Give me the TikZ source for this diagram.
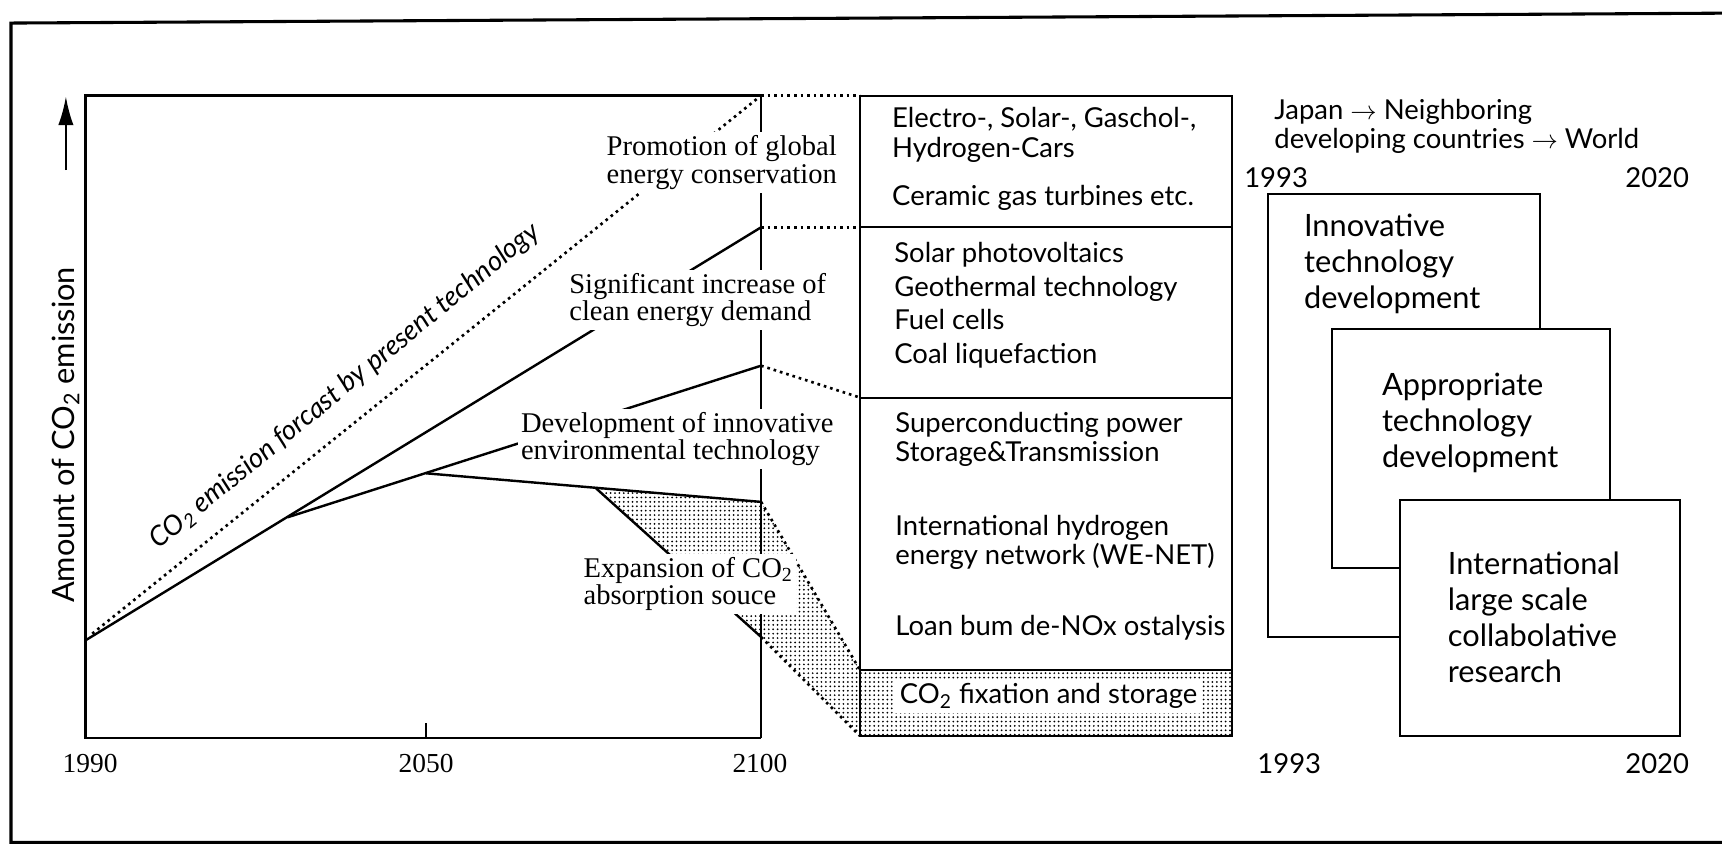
\documentclass[tikz,border=0pt]{standalone}
\usepackage{fontspec}
\setmainfont{Liberation Serif}
\newfontfamily\optfont{Lato}
\usepackage{tikz}
\usetikzlibrary{arrows.meta, patterns.meta, positioning}

\begin{document}
\begin{tikzpicture}[x=0.5pt, y=-0.5pt,
  graphline/.style={line width=1.1pt},
  dotline/.style={line width=1.2pt, dash pattern=on 1.2pt off 1.8pt},
  chartlbl/.style={font=\fontsize{13}{12.5}\selectfont, align=left, fill=white, inner sep=1.5pt, anchor=west},
  midtxt/.style={font=\fontsize{12.5}{13.5}\selectfont\optfont, align=left, anchor=west, inner sep=0pt},
  bigtxt/.style={font=\fontsize{14}{16.3}\selectfont\optfont, align=left, anchor=west, inner sep=0pt},
  yeartxt/.style={font=\fontsize{12.5}{14}\selectfont, inner sep=0pt},
  stepbox/.style={draw, line width=0.9pt, fill=white},
  stipple/.style={pattern={Dots[distance=2pt, radius=0.45pt]}}]
  \useasboundingbox (0,0) rectangle (1568,769);

  % Outer frame
  \draw[line width=1.4pt] (1568,12) -- (10,21) -- (10,767) -- (1568,767);

  % Key points of the emission chart
  \coordinate (o)   at (78,583);
  \coordinate (br)  at (262,471);
  \coordinate (p50) at (388,431);
  \coordinate (s1)  at (542,444);
  \coordinate (t1)  at (693,87);
  \coordinate (t2)  at (693,207);
  \coordinate (t3)  at (693,333);
  \coordinate (t4)  at (693,457);
  \coordinate (t5)  at (693,580);
  \coordinate (m1)  at (783,87);
  \coordinate (m2)  at (783,207);
  \coordinate (m3)  at (783,362);
  \coordinate (m4)  at (783,610);
  \coordinate (m5)  at (783,670);

  % Stippled CO2 absorption band
  \fill[stipple] (s1) -- (t4) -- (m4) -- (m5) -- (t5) -- cycle;
  \fill[stipple] (m4) rectangle (1122,670);

  % Chart frame
  \draw[graphline] (t1) -- (78,87) -- (78,672) -- (693,672);
  \draw[graphline] (388,672) -- (388,658);
  \draw[graphline] (t1) -- (693,672);

  % Emission paths
  \draw[dotline] (84,577) -- (t1);
  \draw[graphline] (o) -- (t2);
  \draw[graphline] (br) -- (t3);
  \draw[graphline] (p50) -- (t4);
  \draw[graphline] (s1) -- (t5);
  \draw[dotline] (t4) -- (m4);
  \draw[dotline] (t5) -- (m5);

  % Dotted links to the technology column
  \draw[dotline] (t1) -- (m1);
  \draw[dotline] (t2) -- (m2);
  \draw[dotline] (t3) -- (m3);

  % Technology column
  \draw[line width=0.9pt] (m1) rectangle (1122,670);
  \draw[line width=0.9pt] (m2) -- (1122,207);
  \draw[line width=0.9pt] (m3) -- (1122,362);
  \draw[line width=0.9pt] (m4) -- (1122,610);

  % Chart labels
  \node[chartlbl] (promo) at (549,148) {Promotion of global\\energy conservation};
  \node[chartlbl] (clean) at (515,273) {Significant increase of\\clean energy demand};
  \node[chartlbl] (innov) at (471,400) {Development of innovative\\environmental technology};
  \node[chartlbl] (absorb) at (528,532) {Expansion of CO\textsubscript{2}\\absorption souce};

  % Axis labels
  \draw[-{Latex[length=13pt,width=7pt]}, line width=0.9pt] (60,155) -- (60,88);
  \node[rotate=90, font=\fontsize{14}{14}\selectfont\optfont] (ylbl) at (60,396) {Amount of CO\textsubscript{2} emission};
  \node[rotate=39.4, font=\fontsize{12.5}{12}\selectfont\optfont\itshape] (fcast) at (314,352) {CO\textsubscript{2} emission forcast by present technology};
  \node[yeartxt] (y1990) at (82,695) {1990};
  \node[yeartxt] (y2050) at (388,695) {2050};
  \node[yeartxt] (y2100) at (692,695) {2100};

  % Technology items
  \node[midtxt] (cars) at (812,123) {Electro-, Solar-, Gaschol-,\\Hydrogen-Cars};
  \node[midtxt] (turb) at (812,180) {Ceramic gas turbines etc.};
  \node[midtxt, font=\fontsize{12.5}{15.3}\selectfont\optfont] (solar) at (814,278) {Solar photovoltaics\\Geothermal technology\\Fuel cells\\Coal liquefaction};
  \node[midtxt] (super) at (815,400) {Superconducting power\\Storage\&Transmission};
  \node[midtxt] (wenet) at (815,494) {International hydrogen\\energy network (WE-NET)};
  \node[midtxt] (denox) at (815,572) {Loan bum de-NOx ostalysis};
  \node[midtxt, fill=white, inner sep=2pt] (fix) at (815,634) {CO\textsubscript{2} fixation and storage};

  % Strategy boxes
  \node[midtxt] (route) at (1160,115) {Japan $\rightarrow$ Neighboring\\developing countries $\rightarrow$ World};
  \node[yeartxt, font=\fontsize{12.5}{14}\selectfont\optfont] (s1993) at (1162,162) {1993};
  \node[yeartxt, font=\fontsize{12.5}{14}\selectfont\optfont] (s2020) at (1509,162) {2020};
  \draw[stepbox] (1155,177) rectangle (1402,580);
  \draw[stepbox] (1213,300) rectangle (1466,517);
  \draw[stepbox] (1275,455) rectangle (1530,670);
  \node[bigtxt] (itd) at (1187,240) {Innovative\\technology\\development};
  \node[bigtxt] (atd) at (1258,385) {Appropriate\\technology\\development};
  \node[bigtxt] (ilc) at (1318,562) {International\\large scale\\collabolative\\research};
  \node[yeartxt, font=\fontsize{12.5}{14}\selectfont\optfont] (e1993) at (1174,695) {1993};
  \node[yeartxt, font=\fontsize{12.5}{14}\selectfont\optfont] (e2020) at (1509,695) {2020};
\end{tikzpicture}
\end{document}
